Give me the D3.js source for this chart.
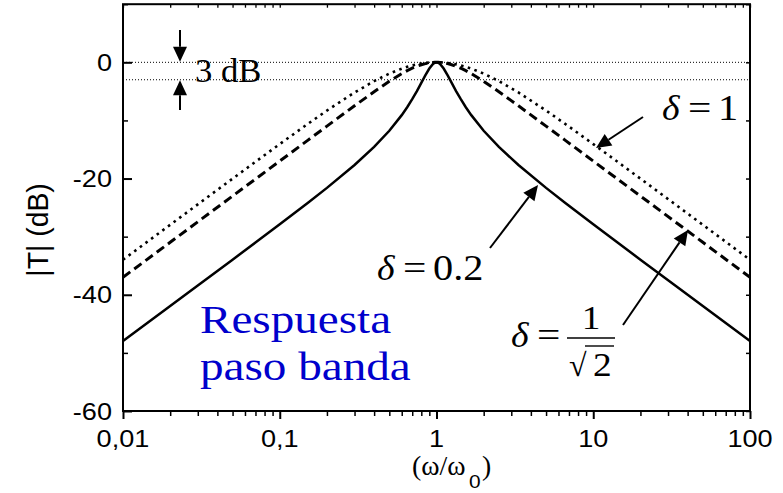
<!DOCTYPE html>
<html>
<head>
<meta charset="utf-8">
<script src="https://cdn.jsdelivr.net/npm/d3@7"></script>
<style>
  html, body { margin: 0; padding: 0; background: #fff; }
  svg { display: block; }
</style>
</head>
<body>
<svg id="chart" width="783" height="493"></svg>
<script>
// Normalised frequency ω/ω0 (log axis)
const ratio = [0.01, 0.02, 0.03, 0.05, 0.07, 0.1, 0.15, 0.2, 0.3, 0.4, 0.5, 0.6, 0.65, 0.7, 0.75, 0.8, 0.85, 0.9, 0.95, 0.975,
  1,
  1.026, 1.053, 1.111, 1.176, 1.25, 1.333, 1.429, 1.538, 1.667, 2, 2.5, 3.333, 5, 6.667, 10, 14.29, 20, 33.33, 50, 100];

// |T| in dB for each damping factor
const magDelta1 = [-33.98, -27.96, -24.44, -20.02, -17.12, -14.07, -10.65, -8.30, -5.19, -3.23, -1.94, -1.09, -0.78, -0.54, -0.35, -0.21, -0.11, -0.05, -0.01, 0.00,
  0,
  0.00, -0.01, -0.05, -0.11, -0.21, -0.35, -0.54, -0.78, -1.09, -1.94, -3.23, -5.19, -8.30, -10.65, -14.07, -17.12, -20.02, -24.44, -27.96, -33.98];
const magDeltaSqrt2 = [-36.99, -30.97, -27.45, -23.01, -20.09, -16.99, -13.47, -10.98, -7.48, -5.06, -3.27, -1.96, -1.44, -1.02, -0.68, -0.42, -0.23, -0.10, -0.02, -0.01,
  0,
  -0.01, -0.02, -0.10, -0.23, -0.42, -0.68, -1.02, -1.44, -1.96, -3.27, -5.06, -7.48, -10.98, -13.47, -16.99, -20.09, -23.01, -27.45, -30.97, -36.99];
const magDelta02 = [-47.96, -41.94, -38.41, -33.96, -31.02, -27.88, -24.26, -21.61, -17.67, -14.56, -11.78, -9.09, -7.73, -6.35, -4.95, -3.55, -2.22, -1.07, -0.28, -0.07,
  0,
  -0.07, -0.28, -1.07, -2.22, -3.55, -4.95, -6.35, -7.73, -9.09, -11.78, -14.56, -17.67, -21.61, -24.26, -27.88, -31.02, -33.96, -38.41, -41.94, -47.96];

// Reference levels: peak and half-power (-3 dB)
const refLevels = [0, -3];

// Axis ticks
const xMajor = [0.01, 0.1, 1, 10, 100];
const xMajorLabels = ["0,01", "0,1", "1", "10", "100"];
const yMajor = [-60, -40, -20, 0];
const yMinor = [-50, -30, -10, 10];

const L = 123, R = 750, T = 4.2, B = 411;
const svg = d3.select("#chart");

const x = d3.scaleLog().domain([0.01, 100]).range([L, R]);
const y = d3.scaleLinear().domain([-60, 10]).range([B, T]);

const SANS = "'Liberation Sans', Arial, Helvetica, sans-serif";
const SERIF = "'Liberation Serif', 'Times New Roman', Times, serif";
const SX = 1.13; // glyphs are drawn slightly wide

function label(px, py, str, o) {
  o = o || {};
  const t = svg.append("text")
    .attr("transform", `translate(${px},${py}) scale(${o.sx || SX},1)`)
    .attr("font-family", o.family || SANS)
    .attr("font-size", o.size || 24)
    .attr("text-anchor", o.anchor || "start")
    .attr("fill", o.fill || "#000")
    .text(str);
  if (o.italic) t.attr("font-style", "italic");
  return t;
}

// minor decade ticks
const xMinorAll = [];
for (let e = -2; e < 2; e++) {
  for (let k = 2; k <= 9; k++) xMinorAll.push(k * Math.pow(10, e));
}

// ----- reference dotted lines -----
svg.append("g").selectAll("line").data(refLevels).join("line")
  .attr("x1", L).attr("x2", R)
  .attr("y1", d => y(d)).attr("y2", d => y(d))
  .attr("stroke", "#000").attr("stroke-width", 1)
  .attr("stroke-dasharray", "1,2");

// ----- curves -----
const line = d3.line()
  .x((d, i) => x(ratio[i]))
  .y(d => y(d));

svg.append("path").datum(magDelta1)
  .attr("d", line).attr("fill", "none")
  .attr("stroke", "#000").attr("stroke-width", 2.6)
  .attr("stroke-dasharray", "2.6,4.4");

svg.append("path").datum(magDeltaSqrt2)
  .attr("d", line).attr("fill", "none")
  .attr("stroke", "#000").attr("stroke-width", 3)
  .attr("stroke-dasharray", "9,5");

svg.append("path").datum(magDelta02)
  .attr("d", line).attr("fill", "none")
  .attr("stroke", "#000").attr("stroke-width", 2.5);

// ----- axes -----
const ax = svg.append("g").attr("stroke", "#000");

// bottom: ticks outward
ax.append("g").attr("transform", `translate(0,${B})`)
  .call(d3.axisBottom(x).tickValues(xMajor).tickSize(8).tickFormat(""))
  .call(g => g.select(".domain").remove())
  .call(g => g.selectAll("line").attr("stroke-width", 2));
ax.append("g").attr("transform", `translate(0,${B})`)
  .call(d3.axisBottom(x).tickValues(xMinorAll).tickSize(5).tickFormat(""))
  .call(g => g.select(".domain").remove())
  .call(g => g.selectAll("line").attr("stroke-width", 1.5));

// top: ticks inward
ax.append("g").attr("transform", `translate(0,${T})`)
  .call(d3.axisBottom(x).tickValues(xMajor.concat(xMinorAll)).tickSize(3.5).tickFormat(""))
  .call(g => g.select(".domain").remove())
  .call(g => g.selectAll("line").attr("stroke-width", 1.3));

// left: ticks inward
ax.append("g").attr("transform", `translate(${L},0)`)
  .call(d3.axisRight(y).tickValues(yMajor).tickSize(9).tickFormat(""))
  .call(g => g.select(".domain").remove())
  .call(g => g.selectAll("line").attr("stroke-width", 2));
ax.append("g").attr("transform", `translate(${L},0)`)
  .call(d3.axisRight(y).tickValues(yMinor).tickSize(5).tickFormat(""))
  .call(g => g.select(".domain").remove())
  .call(g => g.selectAll("line").attr("stroke-width", 1.5));

// right: ticks inward
ax.append("g").attr("transform", `translate(${R},0)`)
  .call(d3.axisLeft(y).tickValues(yMajor.concat(yMinor)).tickSize(4).tickFormat(""))
  .call(g => g.select(".domain").remove())
  .call(g => g.selectAll("line").attr("stroke-width", 1.5));

// frame
svg.append("rect")
  .attr("x", L).attr("y", T).attr("width", R - L).attr("height", B - T)
  .attr("fill", "none").attr("stroke", "#000").attr("stroke-width", 2);

// tick labels
xMajor.forEach((v, i) => label(x(v), 447, xMajorLabels[i], { anchor: "middle", size: 24 }));
yMajor.forEach(v => label(112, y(v) + 8.5, String(v), { anchor: "end", size: 24 }));

// axis titles
svg.append("text")
  .attr("transform", `translate(48,230) rotate(-90) scale(1.05,1.12)`)
  .attr("font-family", SANS).attr("font-size", 27)
  .attr("text-anchor", "middle")
  .text("|T| (dB)");

label(412, 475, "(ω/ω", { family: SERIF, size: 27, sx: 1.03 });
label(469, 488, "0", { family: SANS, size: 19, sx: 1.1 });
label(482, 475, ")", { family: SERIF, size: 27, sx: 1.03 });

// ----- annotations -----
function arrow(x1, y1, x2, y2, len, half) {
  const a = Math.atan2(y2 - y1, x2 - x1);
  const bx = x2 - len * Math.cos(a), by = y2 - len * Math.sin(a);
  svg.append("line")
    .attr("x1", x1).attr("y1", y1).attr("x2", bx).attr("y2", by)
    .attr("stroke", "#000").attr("stroke-width", 2);
  const px = -Math.sin(a) * half, py = Math.cos(a) * half;
  svg.append("polygon")
    .attr("points", `${x2},${y2} ${bx + px},${by + py} ${bx - px},${by - py}`)
    .attr("fill", "#000");
}

// 3 dB marker
arrow(180, 30, 180, y(0) - 0.5, 15, 7);
arrow(180, 110, 180, y(-3) + 0.5, 15, 7);
label(195, 82, "3 dB", { family: SERIF, size: 33, sx: 1.05 });

// damping labels
function deltaLabel(px, py, rest) {
  label(px, py, "δ", { family: SERIF, size: 36, italic: true, sx: 1.05 });
  label(px + 26, py, "=", { family: SERIF, size: 36, sx: 1.15 });
  if (rest) label(px + 56, py, rest, { family: SERIF, size: 36, sx: 1.12 });
}
deltaLabel(662, 120, "1");
arrow(643, 117, 596, 148, 15, 7);

deltaLabel(377, 280, "0.2");
arrow(490, 248, 538, 185, 15, 7);

deltaLabel(511, 347, null);
// fraction 1/√2
svg.append("line").attr("x1", 567).attr("x2", 615).attr("y1", 338).attr("y2", 338)
  .attr("stroke", "#000").attr("stroke-width", 1.6);
label(591, 329, "1", { family: SERIF, size: 34, anchor: "middle", sx: 1.1 });
label(569, 376, "√", { family: SERIF, size: 32, sx: 1.0 });
label(593, 376, "2", { family: SERIF, size: 34, sx: 1.1 });
svg.append("line").attr("x1", 585).attr("x2", 614).attr("y1", 346).attr("y2", 346)
  .attr("stroke", "#000").attr("stroke-width", 1.4);
arrow(623, 325, 688, 230, 15, 7);

// caption
label(200, 333, "Respuesta", { family: SERIF, size: 41, fill: "#0000CC", sx: 1.15 });
label(200, 380, "paso banda", { family: SERIF, size: 41, fill: "#0000CC", sx: 1.15 });
</script>
</body>
</html>
